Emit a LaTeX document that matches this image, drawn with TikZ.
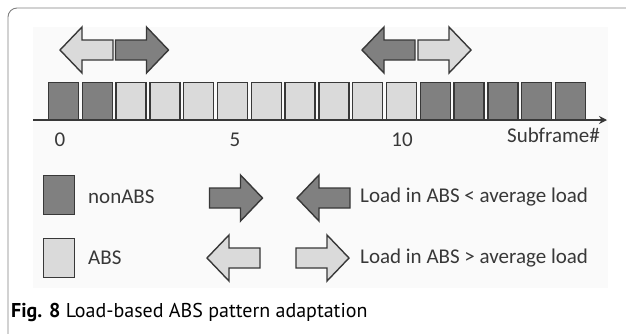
\documentclass[tikz,border=0pt]{standalone}
\usepackage{fontspec}
\setmainfont{Carlito}
\newfontfamily\capfont{PT Sans}
\usetikzlibrary{positioning, arrows.meta}
\definecolor{nonabs}{HTML}{808080}
\definecolor{absfill}{HTML}{DADADA}
\definecolor{edge}{HTML}{383838}
\definecolor{txt}{HTML}{383838}

\begin{document}
\begin{tikzpicture}[x=1pt, y=-1pt,
  sub/.style={draw=edge, line width=1.4pt, minimum width=30pt, minimum height=37pt, inner sep=0pt},
  key/.style={draw=edge, line width=1.4pt, minimum width=30.5pt, minimum height=38.5pt, inner sep=0pt},
  lbl/.style={font=\fontsize{21}{24}\selectfont, text=txt, inner sep=0pt},
  fatarr/.pic={\path[draw=edge, line width=1.4pt, pic actions]
    (-26.5,-10) -- (4.5,-10) -- (4.5,-23) -- (26.5,0) -- (4.5,23) -- (4.5,10) -- (-26.5,10) -- cycle;},
]
  \clip (0,0) rectangle (626,333);
  \draw[black!50, line width=0.9pt, rounded corners=9pt] (8,8) rectangle (700,400);
  \fill[black!2] (33,27) rectangle (608,288);

  % subframes
  \foreach \i in {0,...,15}{
    \ifnum\i<2 \def\fc{nonabs}\else\ifnum\i>10 \def\fc{nonabs}\else\def\fc{absfill}\fi\fi
    \node[sub, fill=\fc] (sf\i) at ({63.5+33.8*\i},101) {};
  }
  \coordinate (axs) at (33,120);
  \coordinate (axe) at (607,120);
  \draw[edge, line width=1.4pt, -{Stealth[length=8pt, width=8pt]}] (axs) -- (axe);

  \node[lbl] (n0) at (60,140) {0};
  \node[lbl] (n5) at (235,140) {5};
  \node[lbl] (n10) at (402,140) {10};
  \node[lbl, anchor=east] (sfn) at (600,135) {Subframe\#};

  % shift arrows
  \pic[fill=absfill, rotate=180] (al) at (86.5,50) {fatarr};
  \pic[fill=nonabs] (ar) at (142,50) {fatarr};
  \pic[fill=nonabs, rotate=180] (bl) at (388.5,50) {fatarr};
  \pic[fill=absfill] (br) at (444.5,50) {fatarr};

  % legend
  \node[key, fill=nonabs] (knon) at (59,195) {};
  \node[key, fill=absfill] (kabs) at (59,258) {};
  \node[lbl, anchor=west] (tnon) at (88,197) {nonABS};
  \node[lbl, anchor=west] (tabs) at (88,258) {ABS};

  \pic[fill=nonabs] (lr) at (236,198) {fatarr};
  \pic[fill=nonabs, rotate=180] (ll) at (323.5,198) {fatarr};
  \pic[fill=absfill, rotate=180] (ml) at (233.5,258) {fatarr};
  \pic[fill=absfill] (mr) at (322.5,258) {fatarr};

  \node[lbl, anchor=west] (tlow) at (360,197) {Load in ABS < average load};
  \node[lbl, anchor=west] (thigh) at (360,258) {Load in ABS > average load};

  \node[anchor=west, inner sep=0pt, font=\capfont\fontsize{20}{23}\selectfont] (cap) at (11,312)
    {\textbf{Fig. 8} Load-based ABS pattern adaptation};
\end{tikzpicture}
\end{document}
